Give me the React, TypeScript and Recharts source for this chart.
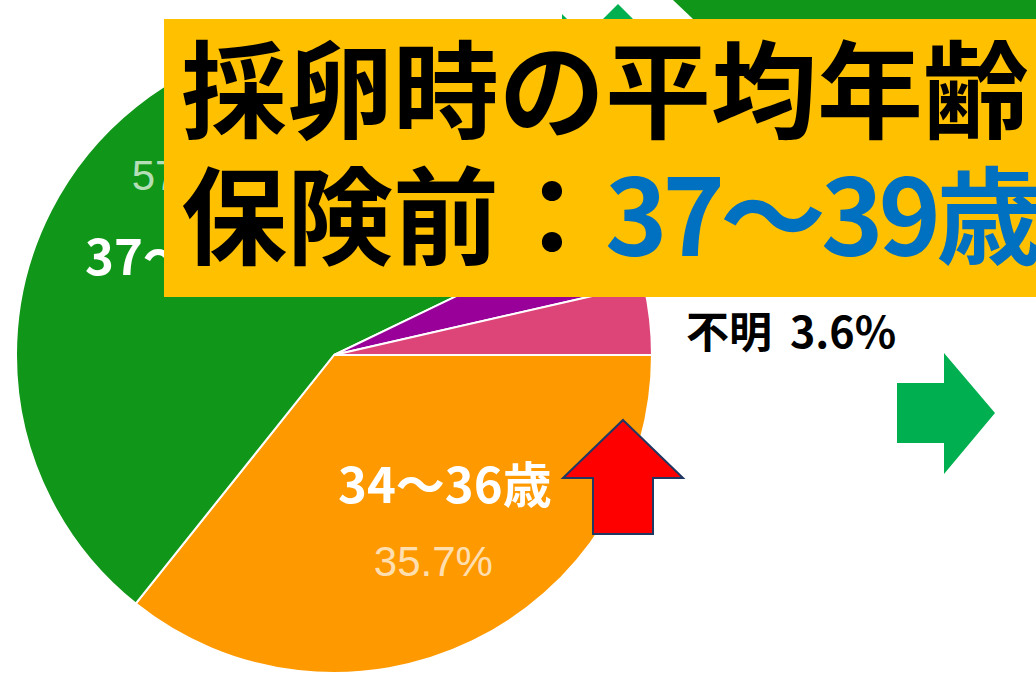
import type { ReactElement } from "react";
import { Cell, Pie, PieChart } from "recharts";

// age bands at egg retrieval (before insurance), counted patients
const categories = ["34～36歳", "37～39歳", "40歳以上", "不明"];
const counts = [10, 16, 1, 1];
const sliceColors = ["#FF9900", "#109618", "#990099", "#DD4477"];

const titleLine1 = "採卵時の平均年齢";
const titleLine2Prefix = "保険前：";

const total = counts.reduce((a, b) => a + b, 0);
const pieData = categories.map((name, i) => ({ name, value: counts[i] }));
const fmtPct = (v: number): string => `${((v / total) * 100).toFixed(1)}%`;
const topIndex = counts.indexOf(Math.max(...counts));
const unknownIndex = categories.indexOf("不明");

const W = 1036;
const H = 673;
const RADIAN = Math.PI / 180;
const jp = "'Noto Sans CJK JP', 'Noto Sans', sans-serif";

type LabelProps = { cx: number; cy: number; midAngle: number; outerRadius: number; percent: number };

const renderPctLabel = ({ cx, cy, midAngle, outerRadius, percent }: LabelProps): ReactElement | null => {
  if (percent < 0.1) return null;
  const r = outerRadius * 0.72;
  const x = cx + r * Math.cos(-midAngle * RADIAN);
  const y = cy + r * Math.sin(-midAngle * RADIAN);
  return (
    <text x={x} y={y} fill="#fff" fillOpacity={0.7} textAnchor="middle" dominantBaseline="central"
      fontSize={42} fontFamily="Arial, 'Liberation Sans', sans-serif">
      {`${(percent * 100).toFixed(1)}%`}
    </text>
  );
};

export default function App(): ReactElement {
  return (
    <div style={{ position: "absolute", left: 0, top: 0, width: W, height: H, background: "#fff", overflow: "hidden" }}>
      <PieChart width={W} height={H} margin={{ top: 0, right: 0, bottom: 0, left: 0 }}>
        <Pie
          data={pieData}
          dataKey="value"
          nameKey="name"
          cx={334}
          cy={355}
          outerRadius={318}
          startAngle={0}
          endAngle={-360}
          stroke="#fff"
          strokeWidth={2}
          labelLine={false}
          label={renderPctLabel}
          isAnimationActive={false}
        >
          {pieData.map((d, i) => (
            <Cell key={d.name} fill={sliceColors[i]} />
          ))}
        </Pie>
      </PieChart>

      <svg width={W} height={H} style={{ position: "absolute", left: 0, top: 0 }}>
        {/* edge of the next pie + arrow peeking at the top */}
        <polygon points="673,0 1036,0 1036,19 693,19" fill="#109618" />
        <polygon points="618,4 603,19 633,19" fill="#00B050" />
        <polygon points="562,14 562,19 567,19" fill="#00B050" />

        {/* category callouts */}
        <text x={85} y={275} fill="#fff" fontSize={49} fontWeight={700} fontFamily={jp}>{categories[1]}</text>
        <text x={338} y={503} fill="#fff" fontSize={49} fontWeight={700} fontFamily={jp}>{categories[0]}</text>

        {/* title box */}
        <rect x={164} y={19} width={W - 164} height={278} fill="#FFC000" />
        <text x={181} y={130} fill="#000" fontSize={106} fontWeight={700} fontFamily={jp}>{titleLine1}</text>
        <text x={181} y={256} fill="#000" fontSize={106} fontWeight={700} fontFamily={jp}>
          {titleLine2Prefix}
          <tspan fill="#0070C0" letterSpacing={-5}>{categories[topIndex]}</tspan>
        </text>

        <text x={686} y={348} fill="#000" fontSize={43} fontWeight={700} fontFamily={jp}>
          {categories[unknownIndex]}
          <tspan dx={18}>{fmtPct(counts[unknownIndex])}</tspan>
        </text>

        {/* arrows */}
        <polygon points="623,420 683,478 653,478 653,534 593,534 593,478 563,478" fill="#FF0000" stroke="#1F3864" strokeWidth={2} />
        <polygon points="897,383 944,383 944,353 995,413 944,474 944,443 897,443" fill="#00B050" />
      </svg>
    </div>
  );
}
